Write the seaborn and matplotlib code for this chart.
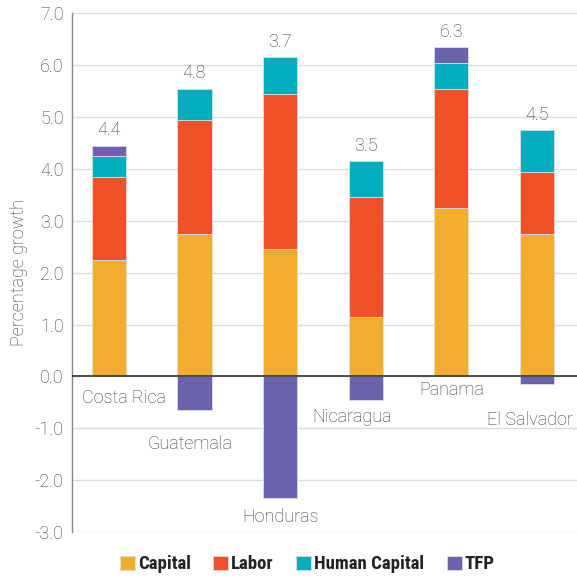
import numpy as np
import matplotlib.pyplot as plt
import seaborn as sns

countries = ['Costa Rica', 'Guatemala', 'Honduras', 'Nicaragua', 'Panama', 'El Salvador']
capital = [2.25, 2.75, 2.45, 1.15, 3.25, 2.75]
labor = [1.6, 2.2, 3.0, 2.3, 2.3, 1.2]
human_capital = [0.4, 0.6, 0.7, 0.7, 0.5, 0.8]
tfp = [0.2, -0.65, -2.35, -0.45, 0.3, -0.15]
totals = ['4.4', '4.8', '3.7', '3.5', '6.3', '4.5']
yticks = [7.0, 6.0, 5.0, 4.0, 3.0, 2.0, 1.0, 0.0, -1.0, -2.0, -3.0]

colors = {'Capital': '#F0AD30', 'Labor': '#F15129',
          'Human Capital': '#00ADBD', 'TFP': '#6A62AC'}

# where the country names sit (layout only)
name_y = [-0.42, -1.3, -2.7, -0.78, -0.27, -0.83]
name_dx = [0.17, -0.05, 0.0, -0.16, 0.0, -0.08]

sns.set_style('white')
plt.rcParams['font.family'] = ['Roboto', 'DejaVu Sans']

fig = plt.figure(figsize=(5.77, 5.79), dpi=100)
ax = fig.add_axes([0.125, 0.081, 0.875, 0.896])

cap = np.array(capital)
lab = np.array(labor)
hc = np.array(human_capital)
tf = np.array(tfp)
pos_top = cap + lab + hc
tfp_bottom = np.where(tf > 0, pos_top, 0)

layers = [('Capital', cap, np.zeros(6)), ('Labor', lab, cap),
          ('Human Capital', hc, cap + lab), ('TFP', tf, tfp_bottom)]
for name, vals, bot in layers:
    sns.barplot(x=countries, y=vals, bottom=bot, color=colors[name], width=0.4,
                edgecolor='#dddddd', linewidth=0.6, label=name, ax=ax,
                saturation=1)

txt = '#3a3a3a'
x = np.arange(len(countries))
stack_top = pos_top + np.where(tf > 0, tf, 0)
for i in range(len(countries)):
    ax.text(x[i], stack_top[i] + 0.12, totals[i], ha='center', va='bottom',
            fontsize=13, color=txt, fontweight='light')
    ax.text(x[i] + name_dx[i], name_y[i], countries[i], ha='center', va='center',
            fontsize=13, color=txt, fontweight='light')

ax.set_xlim(-0.43, 5.47)
ax.set_ylim(-3.0, 7.0)
ax.set_yticks(yticks)
ax.set_yticklabels([f'{v:.1f}' for v in yticks], fontsize=13, color=txt,
                   fontweight='light')
ax.set_xticks([])
ax.set_xlabel('')
ax.set_ylabel('Percentage growth', fontsize=13, color=txt, fontweight='light',
              labelpad=5)
ax.tick_params(axis='y', length=0, pad=6)
ax.yaxis.grid(True, color='#dddddd', linewidth=1)
ax.set_axisbelow(True)
ax.axhline(0, color='#333333', linewidth=1.2, zorder=3)
for s in ['top', 'right', 'bottom']:
    ax.spines[s].set_visible(False)
ax.spines['left'].set_color('#888888')
ax.spines['left'].set_linewidth(1)

leg = ax.legend(loc='upper center', bbox_to_anchor=(0.466, -0.012), ncol=4,
                frameon=False, handlelength=0.8, handleheight=0.8, handletextpad=0.15,
                columnspacing=1.2, prop={'family': ['Roboto Condensed', 'Liberation Sans Narrow', 'Roboto'],
                                         'weight': 'bold', 'size': 13.5})
for t in leg.get_texts():
    t.set_color('#222222')

fig.savefig('out.png', dpi=100)
